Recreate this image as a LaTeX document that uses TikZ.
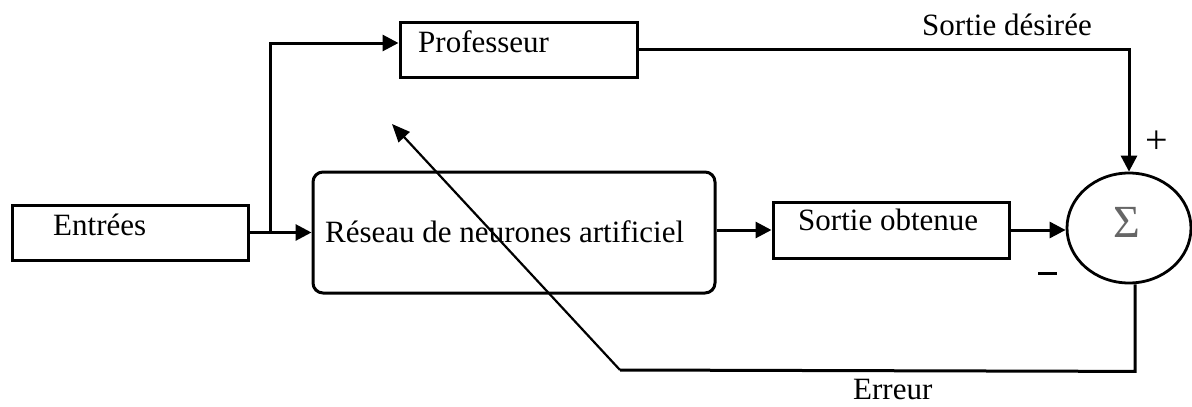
\documentclass[tikz,border=0pt]{standalone}
\usepackage{fontspec}
\setmainfont{Liberation Serif}
\usetikzlibrary{shapes.geometric,arrows.meta}
\begin{document}
\begin{tikzpicture}[x=1pt,y=-1pt,
  box/.style={draw,line width=3pt,minimum width=#1,inner sep=0pt},
  lbl/.style={anchor=base west,inner sep=0pt,font=\fontsize{31}{36}\selectfont},
  wire/.style={line width=3pt},
  flow/.style={wire,-{Triangle[length=16pt,width=16pt]}},
  thin/.style={line width=2.2pt,-{Triangle[length=18pt,width=15pt]}}]
\useasboundingbox (0,0) rectangle (1192,407);
% blocks
\node[box=236pt,minimum height=55pt] (E) at (130,232.5) {};
\node[box=237pt,minimum height=55pt] (P) at (518.5,49.5) {};
\node[box=402pt,minimum height=121pt,rounded corners=10pt] (R) at (514,232.5) {};
\node[box=236pt,minimum height=56pt] (O) at (891,230) {};
\node[draw,line width=2.8pt,ellipse,minimum width=124pt,minimum height=110pt,inner sep=0pt] (S) at (1129,228) {};
% texts
\node[lbl] (tE) at (53,235) {Entrées};
\node[lbl] (tP) at (418,52) {Professeur};
\node[lbl] (tR) at (325,242) {Réseau de neurones artificiel};
\node[lbl] (tO) at (798,230) {Sortie obtenue};
\node[lbl] (tD) at (922,35) {Sortie désirée};
\node[lbl] (tErr) at (853,399) {Erreur};
\node[font=\fontsize{46}{50}\selectfont,text=black!60,inner sep=0pt] (sig) at (1127,222) {Σ};
\node[font=\fontsize{40}{44}\selectfont,inner sep=0pt] (plus) at (1157,142) {+};
\node[inner sep=0pt] (minus) at (1047.5,273) {};
\draw[wire] (1038,273) -- (1057,273);
% connectors
\coordinate (j) at (270,232.5);
\coordinate (fb) at (392,124);
\draw[flow] (E.east) -- (R.west);
\draw[flow] (j) |- ([yshift=6.5pt]P.west);
\draw[flow] (P.east) -| (S.north);
\draw[flow] (R.east |- O.west) -- (O.west);
\draw[flow] (O.east) -- (O.east -| S.west);
\draw[wire] ([xshift=6pt]S.south) -- ++(0,87) -- (620,370);
\draw[thin] (620,370) -- (fb);
\end{tikzpicture}
\end{document}
